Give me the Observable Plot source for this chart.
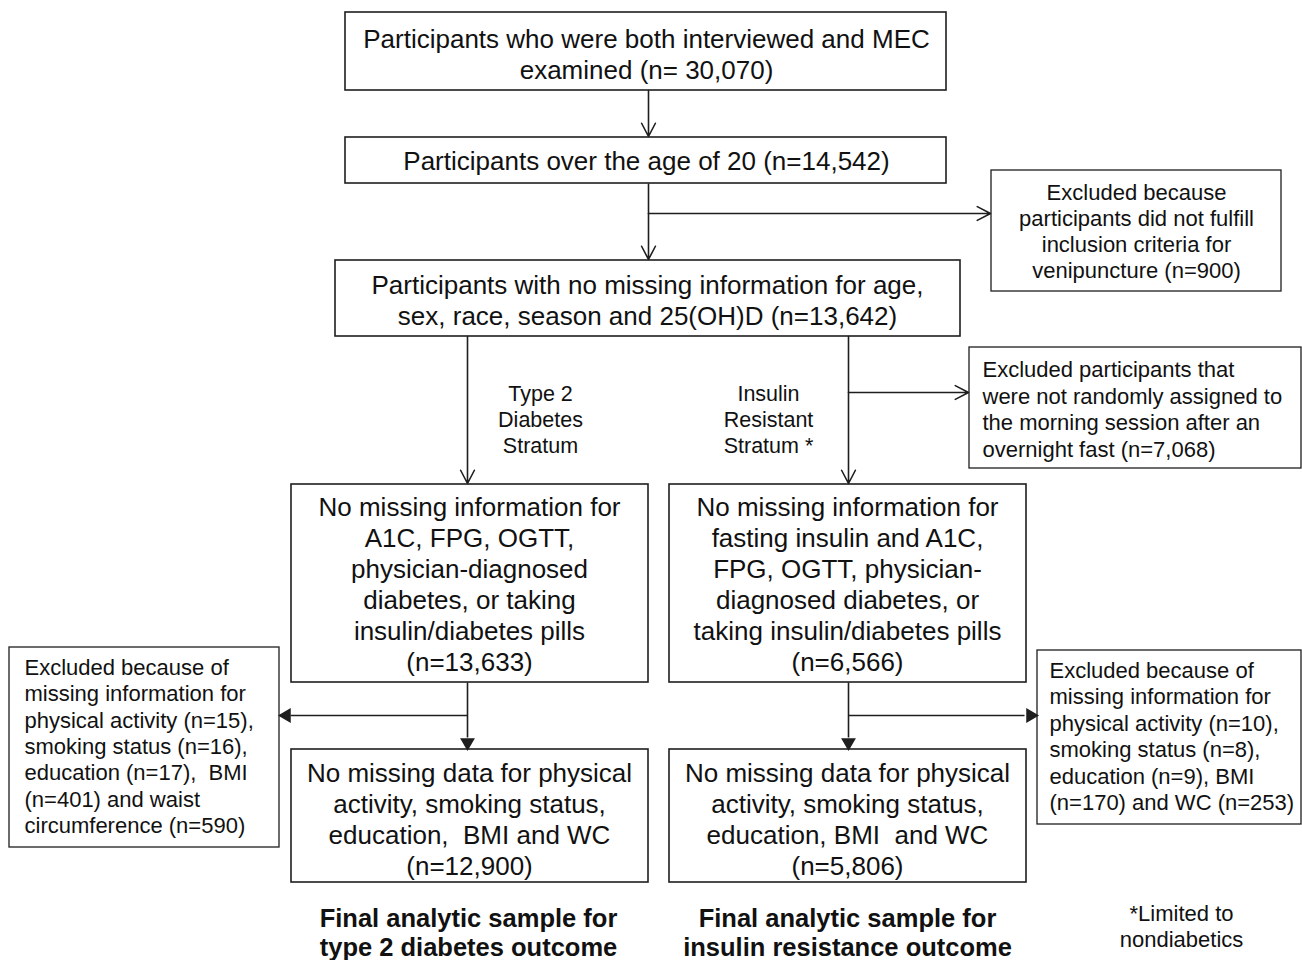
<!DOCTYPE html>
<html>
<head>
<meta charset="utf-8">
<script src="https://cdn.jsdelivr.net/npm/d3@7"></script>
<script src="https://cdn.jsdelivr.net/npm/@observablehq/plot@0.6"></script>
<style>
  html, body { margin: 0; padding: 0; background: #fff; }
  #chart svg { display: block; }
</style>
</head>
<body>
<div id="chart"></div>
<script>
// ---- Text content (values) ----
const mainTexts = [
  "Participants who were both interviewed and MEC\nexamined (n= 30,070)",
  "Participants over the age of 20 (n=14,542)",
  "Participants with no missing information for age,\nsex, race, season and 25(OH)D (n=13,642)",
  "No missing information for\nA1C, FPG, OGTT,\nphysician-diagnosed\ndiabetes, or taking\ninsulin/diabetes pills\n(n=13,633)",
  "No missing information for\nfasting insulin and A1C,\nFPG, OGTT, physician-\ndiagnosed diabetes, or\ntaking insulin/diabetes pills\n(n=6,566)",
  "No missing data for physical\nactivity, smoking status,\neducation,  BMI and WC\n(n=12,900)",
  "No missing data for physical\nactivity, smoking status,\neducation, BMI  and WC\n(n=5,806)"
];
const excludedTexts = [
  "Excluded because\nparticipants did not fulfill\ninclusion criteria for\nvenipuncture (n=900)",
  "Excluded participants that\nwere not randomly assigned to\nthe morning session after an\novernight fast (n=7,068)",
  "Excluded because of\nmissing information for\nphysical activity (n=15),\nsmoking status (n=16),\neducation (n=17),  BMI\n(n=401) and waist\ncircumference (n=590)",
  "Excluded because of\nmissing information for\nphysical activity (n=10),\nsmoking status (n=8),\neducation (n=9), BMI\n(n=170) and WC (n=253)"
];
const strataLabels = ["Type 2\nDiabetes\nStratum", "Insulin\nResistant\nStratum *"];
const finalLabels = ["Final analytic sample for\ntype 2 diabetes outcome", "Final analytic sample for\ninsulin resistance outcome"];
const footnote = ["*Limited to\nnondiabetics"];

// ---- Layout (pixel coordinates in a 1302x960 frame) ----
const mainLayout = [
  {x1: 345, x2: 946, y1: 12,  y2: 90,  tx: 646, ty: 53},
  {x1: 345, x2: 946, y1: 137, y2: 183, tx: 646, ty: 160},
  {x1: 335, x2: 960, y1: 260, y2: 336, tx: 647, ty: 299},
  {x1: 291, x2: 648, y1: 484, y2: 682, tx: 469, ty: 583},
  {x1: 669, x2: 1026, y1: 484, y2: 682, tx: 847, ty: 583},
  {x1: 291, x2: 648, y1: 749, y2: 882, tx: 469, ty: 818},
  {x1: 669, x2: 1026, y1: 749, y2: 882, tx: 847, ty: 818}
];
const exclLayout = [
  {x1: 991, x2: 1281, y1: 170, y2: 291, tx: 1136, ty: 230},
  {x1: 969, x2: 1301, y1: 347, y2: 468, tx: 982, ty: 408},
  {x1: 9,   x2: 279,  y1: 647, y2: 847, tx: 24,  ty: 745},
  {x1: 1037, x2: 1301, y1: 650, y2: 824, tx: 1049, ty: 735}
];

const boxes = mainTexts.map((t, i) => ({text: t, ...mainLayout[i]}));
const excl = excludedTexts.map((t, i) => ({text: t, ...exclLayout[i]}));
const exclCentered = excl.slice(0, 1);
const exclLeft = excl.slice(1);
const strata = strataLabels.map((t, i) => ({text: t, tx: [540, 768][i], ty: 418}));
const finals = finalLabels.map((t, i) => ({text: t, tx: [468, 847][i], ty: 932}));
const foot = footnote.map(t => ({text: t, tx: 1181, ty: 925}));

// Connectors: plain segments
const segments = [
  {x1: 648, y1: 183, x2: 648, y2: 213},
  {x1: 467, y1: 682, x2: 467, y2: 737},
  {x1: 848, y1: 682, x2: 848, y2: 737},
  {x1: 467, y1: 715, x2: 290, y2: 715},
  {x1: 848, y1: 715, x2: 1024, y2: 715}
];
// Open-V arrows
const openArrows = [
  {x1: 648, y1: 90,  x2: 648, y2: 136},
  {x1: 648, y1: 213, x2: 648, y2: 259},
  {x1: 648, y1: 213, x2: 990, y2: 213},
  {x1: 467, y1: 336, x2: 467, y2: 483},
  {x1: 848, y1: 336, x2: 848, y2: 483},
  {x1: 848, y1: 392, x2: 968, y2: 392}
];
// Filled arrowheads
const heads = [
  {x: 467, y: 742, rot: 180},
  {x: 848, y: 742, rot: 180},
  {x: 286, y: 715, rot: -90},
  {x: 1030, y: 715, rot: 90}
];

const ink = "#1e1e1e";
const font = "'Liberation Sans', Arial, sans-serif";

const chart = Plot.plot({
  width: 1302,
  height: 960,
  margin: 0,
  x: {domain: [0, 1302], axis: null},
  y: {domain: [0, 960], range: [0, 960], axis: null},
  style: {fontFamily: font, background: "#fff"},
  marks: [
    Plot.rect(boxes, {x1: "x1", x2: "x2", y1: "y1", y2: "y2", fill: "white", stroke: ink, strokeWidth: 1.6}),
    Plot.rect(excl, {x1: "x1", x2: "x2", y1: "y1", y2: "y2", fill: "white", stroke: ink, strokeWidth: 1.3}),
    Plot.link(segments, {x1: "x1", y1: "y1", x2: "x2", y2: "y2", stroke: ink, strokeWidth: 1.6}),
    Plot.arrow(openArrows, {x1: "x1", y1: "y1", x2: "x2", y2: "y2", stroke: ink, strokeWidth: 1.6, headLength: 14, headAngle: 55}),
    Plot.dot(heads, {x: "x", y: "y", symbol: "triangle", r: 5.5, fill: ink, stroke: "none", rotate: "rot"}),
    Plot.text(boxes, {x: "tx", y: "ty", text: "text", fontSize: 26, lineHeight: 1.19, fill: "#111", textAnchor: "middle", lineAnchor: "middle"}),
    Plot.text(exclCentered, {x: "tx", y: "ty", text: "text", fontSize: 22, lineHeight: 1.19, fill: "#111", textAnchor: "middle", lineAnchor: "middle"}),
    Plot.text(exclLeft, {x: "tx", y: "ty", text: "text", fontSize: 22, lineHeight: 1.2, fill: "#111", textAnchor: "start", lineAnchor: "middle"}),
    Plot.text(strata, {x: "tx", y: "ty", text: "text", fontSize: 21.5, lineHeight: 1.21, fill: "#111", textAnchor: "middle", lineAnchor: "middle"}),
    Plot.text(finals, {x: "tx", y: "ty", text: "text", fontSize: 25.5, fontWeight: "bold", lineHeight: 1.1, fill: "#111", textAnchor: "middle", lineAnchor: "middle"}),
    Plot.text(foot, {x: "tx", y: "ty", text: "text", fontSize: 22, lineHeight: 1.2, fill: "#111", textAnchor: "middle", lineAnchor: "middle"})
  ]
});
document.getElementById("chart").appendChild(chart);
</script>
</body>
</html>
